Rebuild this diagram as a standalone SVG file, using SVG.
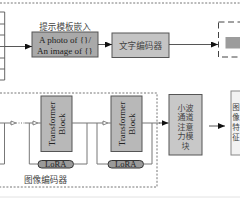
<svg xmlns="http://www.w3.org/2000/svg" width="240" height="200" viewBox="0 0 240 200">
<defs>
<style>
.cjk{font-family:"Noto Sans CJK SC","Noto Sans CJK JP",sans-serif;font-size:8.6px;fill:#444}
.cjs{font-family:"Noto Sans CJK SC","Noto Sans CJK JP",sans-serif;font-size:8px;fill:#444}
.lat{font-family:"Liberation Serif",serif;font-size:9px;fill:#222}
.box{stroke:#555;stroke-width:1}
.ln{fill:none;stroke:#777;stroke-width:1}
.ar{fill:none;stroke:#444;stroke-width:0.9}
.hol{fill:#fff;stroke:#666;stroke-width:0.8}
.dot{fill:none;stroke:#666;stroke-width:0.9;stroke-dasharray:2 1.6}
</style>
<marker id="ah" markerUnits="userSpaceOnUse" markerWidth="7" markerHeight="6" refX="7" refY="3" orient="auto">
<path d="M0,0 L7,3 L0,6 z" fill="#111"/>
</marker>
</defs>
<rect width="240" height="200" fill="#fff"/>
<line x1="0" y1="3" x2="240" y2="3" class="dot"/>
<line x1="0" y1="197" x2="240" y2="197" stroke="#e2e2e2" stroke-width="1"/>

<g id="token-table" fill="none" stroke="#555" stroke-width="0.9">
<path d="M4.7,12 V80"/>
<path d="M0,12 H4.7 M0,24 H4.7 M0,35 H4.7 M0,46.5 H4.7 M0,58 H4.7 M0,69 H4.7 M0,80 H4.7"/>
</g>

<g id="prompt-template">
<text x="65" y="29.5" class="cjk" text-anchor="middle">提示模板嵌入</text>
<rect x="32" y="32" width="66" height="25" fill="#a9a9a9" class="box"/>
<text x="65" y="42.5" class="lat" text-anchor="middle">A photo of {}/</text>
<text x="65" y="53.5" class="lat" text-anchor="middle">An image of {}</text>
</g>

<g id="text-encoder">
<rect x="112" y="33" width="57" height="24.5" fill="#c4c4c4" class="box"/>
<text x="140.5" y="48.5" class="cjk" text-anchor="middle">文字编码器</text>
</g>

<g id="text-feature">
<rect x="218.5" y="22" width="30" height="35" fill="none" stroke="#444" stroke-width="1" stroke-dasharray="6 3.5"/>
<rect x="225.5" y="37" width="20" height="11.5" fill="#9c9c9c"/>
</g>

<g id="image-encoder">
<path d="M0,93 H157 V187 H0" class="dot"/>
<text x="45.5" y="183" class="cjk" text-anchor="middle">图像编码器</text>
</g>

<g id="transformer-block-1">
<rect x="41" y="96" width="31" height="55.5" fill="#b8b8b8" class="box"/>
<text transform="translate(55,124) rotate(-90)" class="lat" text-anchor="middle">Transformer</text>
<text transform="translate(65,124) rotate(-90)" class="lat" text-anchor="middle">Block</text>
</g>

<g id="transformer-block-2">
<rect x="111" y="96" width="31" height="55.5" fill="#b8b8b8" class="box"/>
<text transform="translate(125,124) rotate(-90)" class="lat" text-anchor="middle">Transformer</text>
<text transform="translate(135,124) rotate(-90)" class="lat" text-anchor="middle">Block</text>
</g>

<g id="lora-1">
<rect x="38" y="160.5" width="35.5" height="7.5" rx="3.7" fill="#9a9a9a" stroke="#333" stroke-width="1"/>
<text x="55.7" y="167" class="lat" text-anchor="middle" style="font-size:8.5px">LoRA</text>
</g>

<g id="lora-2">
<rect x="108" y="160.5" width="35.5" height="7.5" rx="3.7" fill="#9a9a9a" stroke="#333" stroke-width="1"/>
<text x="125.7" y="167" class="lat" text-anchor="middle" style="font-size:8.5px">LoRA</text>
</g>

<g id="wavelet-attention">
<rect x="169" y="94.5" width="33" height="60.5" fill="#c8c8c8" class="box"/>
<text x="185.5" y="110.5" class="cjs" text-anchor="middle">小波</text>
<text x="185.5" y="120" class="cjs" text-anchor="middle">通道</text>
<text x="185.5" y="129.5" class="cjs" text-anchor="middle">注意</text>
<text x="185.5" y="139" class="cjs" text-anchor="middle">力模</text>
<text x="185.5" y="148.5" class="cjs" text-anchor="middle">块</text>
</g>

<g id="image-feature">
<rect x="231" y="91" width="14" height="64" fill="#f2f2f2" stroke="#888" stroke-width="1"/>
<text x="232.3" y="109.5" class="cjs" style="font-size:7.5px">图</text>
<text x="232.3" y="119.5" class="cjs" style="font-size:7.5px">像</text>
<text x="232.3" y="129.5" class="cjs" style="font-size:7.5px">特</text>
<text x="232.3" y="139.5" class="cjs" style="font-size:7.5px">征</text>
</g>

<g id="connectors">
<line x1="4.7" y1="46.5" x2="32" y2="46.5" class="ar" marker-end="url(#ah)"/>
<line x1="98" y1="44.5" x2="112" y2="44.5" class="ar" marker-end="url(#ah)"/>
<line x1="169" y1="44.5" x2="218" y2="44.5" class="ar" marker-end="url(#ah)"/>

<path d="M0,123 H11" class="ln"/>
<path d="M4.5,123 V164 H0" class="ln"/>
<polygon points="11,121 16,123 11,125" class="hol"/>
<path d="M16,123 H25" fill="none" stroke="#777" stroke-width="1" stroke-dasharray="1 1.5"/>
<path d="M25,123 H33" class="ln"/>
<polygon points="33,121 38,123 33,125" class="hol"/>
<path d="M38,123 H41" class="ln"/>
<path d="M29.3,123 V164 H38" class="ln"/>
<path d="M73.5,164 H87 V123" class="ln"/>

<path d="M72,123 H103" class="ln"/>
<polygon points="103,121 108,123 103,125" class="hol"/>
<path d="M108,123 H111" class="ln"/>
<path d="M97,123 V164 H108" class="ln"/>
<path d="M143.5,164 H152 V123" class="ln"/>

<path d="M142,123 H160" class="ln"/>
<line x1="159" y1="123" x2="168.5" y2="123" class="ar" marker-end="url(#ah)"/>
<line x1="209" y1="126" x2="225" y2="126" class="ar" marker-end="url(#ah)"/>
</g>
</svg>
